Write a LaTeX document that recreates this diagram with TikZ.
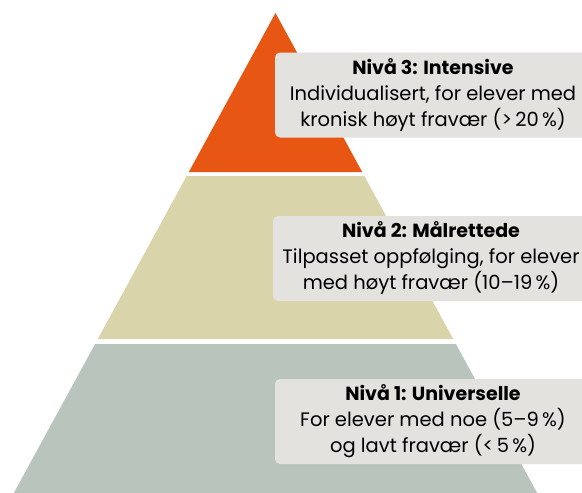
\documentclass[tikz,border=0pt]{standalone}
\usepackage{fontspec}
\setmainfont{Poppins}
\definecolor{lvlthree}{RGB}{232,86,20}
\definecolor{lvltwo}{RGB}{217,212,170}
\definecolor{lvlone}{RGB}{185,196,188}
\definecolor{boxfill}{RGB}{227,226,222}
\tikzset{
  lvlbox/.style={fill=boxfill, rounded corners=5pt, minimum width=316pt, minimum height=85pt,
    align=center, inner sep=0pt, font=\fontsize{19.5}{26}\selectfont, text=black},
}
\newcommand{\lvltitle}[1]{{\fontsize{19}{26}\selectfont\bfseries #1}}
\begin{document}
\begin{tikzpicture}[x=1pt,y=-1pt]
\useasboundingbox (0,0) rectangle (582,493);
\clip (0,0) rectangle (582,493);
\fill[white] (0,0) rectangle (582,493);
% pyramid levels
\fill[lvlthree] (275.5,13) -- (188.8,172) -- (362.2,172) -- cycle;
\fill[lvltwo] (186.7,176) -- (364.3,176) -- (453.2,339) -- (97.8,339) -- cycle;
\fill[lvlone] (95.1,344) -- (455.9,344) -- (541,500) -- (10,500) -- cycle;
% labels
\node[lvlbox] (n3) at (433,95) {\lvltitle{Nivå 3: Intensive}\\Individualisert, for elever med\\kronisk høyt fravær (>\,20\,\%)};
\node[lvlbox] (n2) at (431,258.5) {\lvltitle{Nivå 2: Målrettede}\\Tilpasset oppfølging, for elever\\med høyt fravær (10–19\,\%)};
\node[lvlbox] (n1) at (433,421.5) {\lvltitle{Nivå 1: Universelle}\\For elever med noe (5–9\,\%)\\og lavt fravær (<\,5\,\%)};
\end{tikzpicture}
\end{document}
